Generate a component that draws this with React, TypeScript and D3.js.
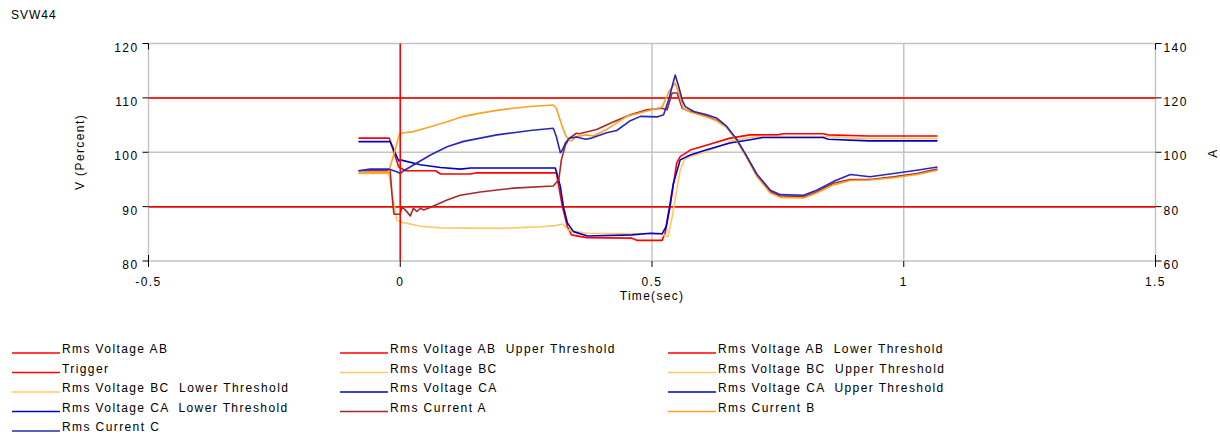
import React from 'react';
import * as d3 from 'd3';

// time ticks (sec) and the two value axes
const timeTicks = [-0.5, 0, 0.5, 1, 1.5];
const voltTicks = [80, 90, 100, 110, 120];
const ampTicks = [60, 80, 100, 120, 140];

const triggerTime = 0;
const voltThresholds = [110, 90]; // upper, lower

// [time, V %]
const rmsVoltageAB: [number, number][] = [
    [-0.083, 102.6], [-0.022, 102.6], [-0.003, 97.3], [0.01, 96.6], [0.07, 96.6], [0.08, 96.0],
    [0.14, 96.0], [0.15, 96.2], [0.31, 96.2], [0.322, 90], [0.332, 86.3], [0.34, 84.8], [0.37, 84.3],
    [0.46, 84.2], [0.47, 83.8], [0.52, 83.8], [0.526, 85.1], [0.536, 90], [0.542, 93.7], [0.549, 98],
    [0.556, 99.2], [0.576, 100.4], [0.608, 101.3], [0.655, 102.6], [0.695, 103.2], [0.75, 103.2],
    [0.76, 103.4], [0.84, 103.4], [0.85, 103.2], [0.93, 103.0], [1.067, 103.0],
];

const rmsVoltageBC: [number, number][] = [
    [-0.083, 96.1], [-0.023, 96.1], [-0.007, 87.5], [0.0, 87.2], [0.04, 86.4], [0.08, 86.1],
    [0.2, 86.0], [0.28, 86.3], [0.308, 86.5], [0.323, 86.8], [0.333, 85.7], [0.37, 85.1], [0.5, 85.0],
    [0.518, 84.9], [0.532, 84.5], [0.54, 88.1], [0.548, 92.4], [0.556, 96.7], [0.564, 98.6],
    [0.576, 99.2], [0.607, 100.1], [0.655, 102.0], [0.695, 102.7], [0.72, 102.9], [0.84, 102.9],
    [0.93, 102.5], [1.067, 102.5],
];

const rmsVoltageCA: [number, number][] = [
    [-0.083, 101.95], [-0.02, 101.95], [-0.003, 98.4], [0.0, 98.6], [0.04, 97.7], [0.08, 97.2],
    [0.12, 96.9], [0.14, 97.1], [0.308, 97.1], [0.318, 93.7], [0.324, 90], [0.332, 87], [0.344, 85.4],
    [0.372, 84.6], [0.46, 84.8], [0.497, 85.1], [0.52, 85.0], [0.528, 86.3], [0.536, 90.6],
    [0.542, 94.1], [0.556, 98.6], [0.576, 99.5], [0.607, 100.4], [0.655, 101.7], [0.695, 102.3],
    [0.72, 102.7], [0.84, 102.7], [0.85, 102.4], [0.93, 102.1], [1.067, 102.1],
];

// [time, A]
const rmsCurrentA: [number, number][] = [
    [-0.083, 93.2], [-0.02, 93.2], [-0.016, 83.6], [-0.013, 78.0], [-0.012, 77.2], [0.0, 77.2],
    [0.003, 79.8], [0.01, 78.8], [0.02, 76.6], [0.026, 79.4], [0.033, 78.2], [0.04, 79.4],
    [0.046, 78.8], [0.056, 79.4], [0.066, 80.2], [0.093, 82.4], [0.119, 84.2], [0.159, 85.4],
    [0.225, 86.8], [0.304, 87.6], [0.315, 90.0], [0.32, 97.2], [0.328, 102.6], [0.336, 105.2],
    [0.35, 107.0], [0.356, 106.8], [0.39, 108.4], [0.424, 111.2], [0.457, 113.8], [0.49, 115.6],
    [0.52, 116.2], [0.53, 115.6], [0.54, 121.8], [0.55, 121.8], [0.56, 116.2], [0.576, 115.0],
    [0.609, 113.2], [0.628, 111.8], [0.648, 109.4], [0.668, 104.6], [0.688, 98.4], [0.708, 91.6],
    [0.735, 85.4], [0.755, 83.9], [0.801, 83.6], [0.827, 85.4], [0.86, 88.6], [0.894, 90.0],
    [0.933, 90.0], [0.98, 91.0], [1.026, 92.2], [1.067, 93.8],
];

const rmsCurrentB: [number, number][] = [
    [-0.083, 92.4], [-0.024, 92.4], [-0.013, 99.0], [-0.002, 106.4], [0.0, 107.0], [0.027, 107.6],
    [0.06, 109.4], [0.093, 111.2], [0.126, 113.2], [0.159, 114.4], [0.192, 115.4], [0.225, 116.2],
    [0.258, 116.8], [0.304, 117.4], [0.31, 116.2], [0.32, 110.4], [0.328, 106.4], [0.335, 104.4],
    [0.34, 104.2], [0.35, 105.8], [0.37, 106.4], [0.383, 106.0], [0.41, 108.4], [0.45, 113.2],
    [0.49, 115.2], [0.52, 116.6], [0.534, 122.4], [0.546, 125.4], [0.552, 122.4], [0.562, 116.2],
    [0.576, 114.8], [0.609, 113.0], [0.628, 111.6], [0.648, 109.2], [0.668, 104.4], [0.688, 98.0],
    [0.708, 91.2], [0.735, 85.0], [0.755, 83.4], [0.801, 83.2], [0.827, 85.0], [0.86, 88.0],
    [0.894, 89.6], [0.933, 89.8], [0.98, 90.6], [1.026, 91.8], [1.067, 93.4],
];

const rmsCurrentC: [number, number][] = [
    [-0.083, 93.2], [-0.06, 93.8], [-0.023, 93.8], [-0.007, 92.8], [0.0, 92.2], [0.007, 93.2],
    [0.027, 95.4], [0.06, 99.0], [0.093, 102.0], [0.126, 104.0], [0.159, 105.2], [0.192, 106.4],
    [0.225, 107.2], [0.258, 108.0], [0.304, 108.8], [0.31, 105.8], [0.318, 99.8], [0.322, 100.8],
    [0.328, 103.4], [0.336, 105.2], [0.35, 105.6], [0.368, 104.8], [0.38, 105.2], [0.41, 107.2],
    [0.43, 108.0], [0.457, 111.6], [0.477, 113.2], [0.51, 113.0], [0.523, 113.8], [0.533, 119.2],
    [0.546, 128.4], [0.553, 124.2], [0.56, 119.2], [0.566, 116.8], [0.583, 115.0], [0.609, 113.8],
    [0.628, 112.6], [0.648, 109.6], [0.668, 104.8], [0.688, 98.6], [0.708, 92.0], [0.735, 86.0],
    [0.755, 84.4], [0.801, 84.2], [0.827, 86.0], [0.86, 89.2], [0.894, 91.8], [0.933, 91.0],
    [0.98, 92.2], [1.026, 93.4], [1.067, 94.6],
];

const legendLabels = [
    'Rms Voltage AB', 'Rms Voltage AB  Upper Threshold', 'Rms Voltage AB  Lower Threshold',
    'Trigger', 'Rms Voltage BC', 'Rms Voltage BC  Upper Threshold',
    'Rms Voltage BC  Lower Threshold', 'Rms Voltage CA', 'Rms Voltage CA  Upper Threshold',
    'Rms Voltage CA  Lower Threshold', 'Rms Current A', 'Rms Current B',
    'Rms Current C',
];

const RED = '#ff0000';
const LIGHT_ORANGE = '#ffc862';
const BLUE = '#0000c8';
const DARK_RED = '#a82828';
const ORANGE = '#ffa020';
const BLUE_C = '#2828b4';

const legendColors = [
    RED, RED, RED, RED, LIGHT_ORANGE, LIGHT_ORANGE, LIGHT_ORANGE,
    BLUE, BLUE, BLUE, DARK_RED, ORANGE, BLUE_C,
];

const FONT = 'Liberation Sans, Arial, sans-serif';

const App = () => {
    const left = 148.5, right = 1155.5, top = 43.5, bottom = 261;

    const x = d3.scaleLinear().domain([-0.5, 1.5]).range([left, right]);
    const yV = d3.scaleLinear().domain([80, 120]).range([bottom, top]);
    const yA = d3.scaleLinear().domain([60, 140]).range([bottom, top]);

    const voltLine = d3.line<[number, number]>().x(d => x(d[0])).y(d => yV(d[1]));
    const ampLine = d3.line<[number, number]>().x(d => x(d[0])).y(d => yA(d[1]));

    const series = [
        { d: voltLine(rmsVoltageAB), c: RED },
        { d: voltLine(rmsVoltageBC), c: LIGHT_ORANGE },
        { d: voltLine(rmsVoltageCA), c: BLUE },
        { d: ampLine(rmsCurrentA), c: DARK_RED },
        { d: ampLine(rmsCurrentB), c: ORANGE },
        { d: ampLine(rmsCurrentC), c: BLUE_C },
    ];

    const grid = '#c4c4c4';
    const txt = { fontFamily: FONT, fontSize: 12, letterSpacing: 1.4, fill: '#000' };

    return (
        <svg width={1220} height={437} style={{ position: 'absolute', left: 0, top: 0 }}>
            <rect width={1220} height={437} fill="#fff" />
            <text x={11} y={19} {...txt} letterSpacing={1}>SVW44</text>

            {/* grid */}
            <g stroke={grid} strokeWidth={1.5}>
                {voltTicks.map(v => <line key={'gy' + v} x1={left} x2={right} y1={yV(v)} y2={yV(v)} />)}
                {timeTicks.map(t => <line key={'gx' + t} x1={x(t)} x2={x(t)} y1={top} y2={bottom} />)}
            </g>

            {/* ticks */}
            <g stroke="#000" strokeWidth={1}>
                {voltTicks.map(v => <line key={'ty' + v} x1={left - 6} x2={left} y1={yV(v)} y2={yV(v)} />)}
                {ampTicks.map(a => <line key={'ta' + a} x1={right} x2={right + 6} y1={yA(a)} y2={yA(a)} />)}
                {timeTicks.map(t => <line key={'tx' + t} x1={x(t)} x2={x(t)} y1={bottom} y2={bottom + 6} />)}
                <line x1={left} x2={left} y1={top} y2={top + 6} />
                <line x1={left} x2={left} y1={bottom - 6} y2={bottom} />
                <line x1={right} x2={right} y1={top} y2={top + 6} />
                <line x1={right} x2={right} y1={bottom - 6} y2={bottom} />
            </g>

            {/* tick labels */}
            {voltTicks.map(v => (
                <text key={'ly' + v} x={left - 10} y={yV(v) + 8} textAnchor="end" {...txt}>{v}</text>
            ))}
            {ampTicks.map(a => (
                <text key={'la' + a} x={right + 8} y={yA(a) + 8} {...txt}>{a}</text>
            ))}
            {timeTicks.map(t => (
                <text key={'lx' + t} x={x(t)} y={bottom + 25} textAnchor="middle" {...txt}>{t}</text>
            ))}
            <text x={x(0.5)} y={bottom + 39} textAnchor="middle" {...txt} letterSpacing={1.3}>Time(sec)</text>
            <text transform={`translate(84,152) rotate(-90)`} textAnchor="middle" {...txt}>V (Percent)</text>
            <text transform={`translate(1217,153) rotate(-90)`} textAnchor="middle" {...txt}>A</text>

            {/* thresholds, hidden ones first */}
            <g strokeWidth={1.5}>
                {voltThresholds.map(v => <line key={'ca' + v} x1={left} x2={right} y1={yV(v)} y2={yV(v)} stroke={BLUE} />)}
                {voltThresholds.map(v => <line key={'bc' + v} x1={left} x2={right} y1={yV(v)} y2={yV(v)} stroke={LIGHT_ORANGE} />)}
                {voltThresholds.map(v => <line key={'ab' + v} x1={left} x2={right} y1={yV(v)} y2={yV(v)} stroke={RED} />)}
            </g>

            {series.map((s, i) => (
                <path key={i} d={s.d ?? ''} fill="none" stroke={s.c} strokeWidth={1.6} strokeLinejoin="round" />
            ))}

            <line x1={x(triggerTime)} x2={x(triggerTime)} y1={top} y2={bottom} stroke={RED} strokeWidth={1.5} />

            {/* legend */}
            {legendLabels.map((label, i) => {
                const col = i % 3, row = Math.floor(i / 3);
                const lx = 12 + col * 328;
                const ly = 353 + row * 19.5;
                return (
                    <g key={label}>
                        <line x1={lx} x2={lx + 48} y1={ly} y2={ly} stroke={legendColors[i]} strokeWidth={1.5} />
                        <text x={lx + 50} y={ly} {...txt} xmlSpace="preserve" style={{ whiteSpace: 'pre' }}>{label}</text>
                    </g>
                );
            })}
        </svg>
    );
};

export default App;
